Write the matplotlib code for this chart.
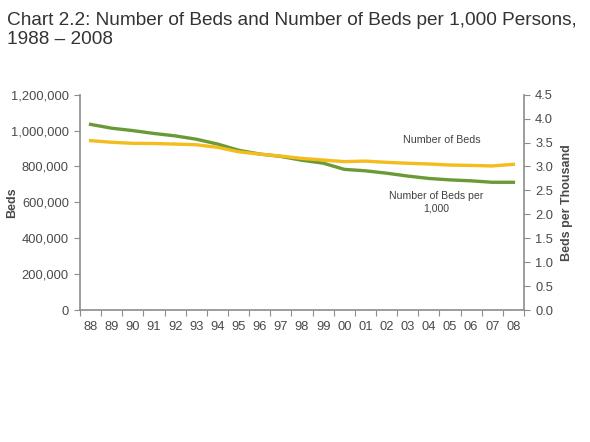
import numpy as np
import matplotlib
matplotlib.use("Agg")
from matplotlib import pyplot as plt
from matplotlib.ticker import FuncFormatter

plt.rcParams['font.family'] = ['Liberation Sans', 'DejaVu Sans']

years = ['88', '89', '90', '91', '92', '93', '94', '95', '96', '97', '98',
         '99', '00', '01', '02', '03', '04', '05', '06', '07', '08']
beds = [944000, 935000, 929000, 928000, 925000, 921000, 907000, 882000, 869000, 858000, 845000,
        836000, 827000, 830000, 823000, 818000, 814000, 808000, 806000, 803000, 812000]
beds_per_1000 = [3.88, 3.80, 3.75, 3.69, 3.64, 3.57, 3.47, 3.34, 3.26, 3.21, 3.13,
                 3.07, 2.94, 2.91, 2.86, 2.80, 2.75, 2.72, 2.70, 2.67, 2.67]

grey = '#8c8c8c'
text_grey = '#4a4a4a'
green = '#6a9a35'
yellow = '#f4bc1c'

fig = plt.figure(figsize=(5.9, 4.42), dpi=100)
ax = fig.add_axes([0.1356, 0.2986, 0.7525, 0.4871])
ax2 = ax.twinx()

x = np.arange(len(years))
ax.plot(x, beds, color=yellow, lw=2.4, zorder=3)
ax2.plot(x, beds_per_1000, color=green, lw=2.4, zorder=2)
ax.set_zorder(ax2.get_zorder() + 1)
ax.patch.set_visible(False)

ax.set_xlim(-0.5, len(years) - 0.5)
ax.set_ylim(0, 1200000)
ax2.set_ylim(0, 4.5)
ax.set_yticks(np.arange(0, 1200001, 200000))
ax2.set_yticks(np.arange(0, 4.51, 0.5))
ax.yaxis.set_major_formatter(FuncFormatter(lambda v, p: f'{int(v):,}'))
ax2.yaxis.set_major_formatter(FuncFormatter(lambda v, p: f'{v:.1f}'))

ax.set_xticks(np.arange(-0.5, len(years), 1.0))
ax.set_xticklabels([])
ax.set_xticks(x, minor=True)
ax.set_xticklabels(years, minor=True)
ax.tick_params(axis='x', which='minor', length=0, pad=8)
ax.tick_params(axis='x', which='major', length=4, direction='out', color=grey)

for a in (ax, ax2):
    a.spines['top'].set_visible(False)
    for s in ('left', 'right', 'bottom'):
        a.spines[s].set_color(grey)
        a.spines[s].set_linewidth(1.2)
    a.tick_params(axis='y', length=4, color=grey, labelsize=9.3, labelcolor=text_grey, pad=4)
    a.tick_params(axis='x', which='both', labelsize=9.3, labelcolor=text_grey)
ax.spines['right'].set_visible(False)
ax2.spines['left'].set_visible(False)
ax2.spines['bottom'].set_visible(False)

ax.set_ylabel('Beds', fontsize=9, color=text_grey, fontweight='bold')
ax.yaxis.set_label_coords(-0.14, 0.5)
ax2.set_ylabel('Beds per Thousand', fontsize=9, color=text_grey, fontweight='bold')
ax2.yaxis.set_label_coords(1.084, 0.5)

ax2.text(16.6, 3.56, 'Number of Beds', fontsize=7.7, color='#404040', ha='center', va='center')
ax2.text(16.36, 2.26, 'Number of Beds per\n1,000', fontsize=7.6, color='#404040',
         ha='center', va='center', linespacing=1.3)

fig.text(0.012, 0.972, 'Chart 2.2: Number of Beds and Number of Beds per 1,000 Persons,\n1988 \u2013 2008',
         fontsize=13.7, color='#333333', ha='left', va='top', linespacing=1.12)

fig.savefig('out.png', dpi=100)
